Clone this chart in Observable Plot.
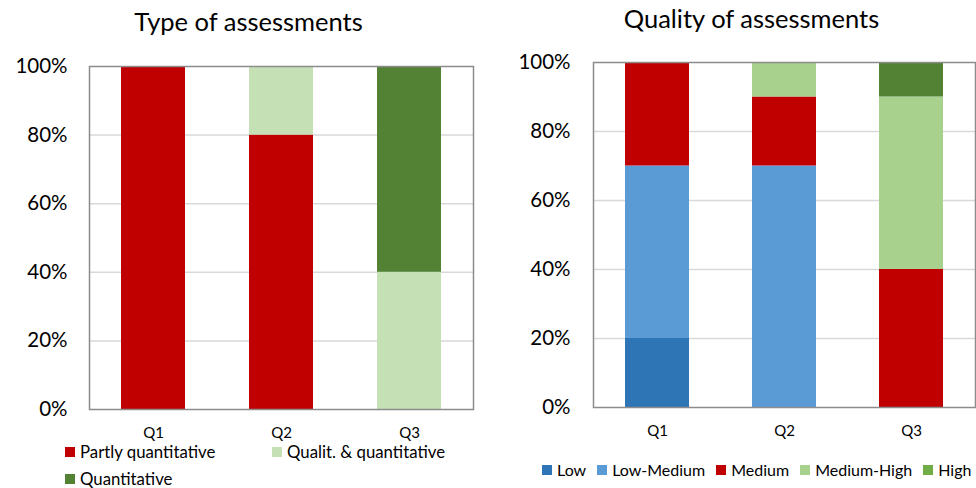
<!DOCTYPE html>
<html>
<head>
<meta charset="utf-8">
<script src="https://cdn.jsdelivr.net/npm/d3@7"></script>
<script src="https://cdn.jsdelivr.net/npm/@observablehq/plot@0.6"></script>
<style>
  html, body { margin: 0; padding: 0; background: #fff; }
  #root { position: relative; width: 976px; height: 488px; overflow: hidden; font-family: Lato, "Open Sans", sans-serif; color: #000; }
  .panel { position: absolute; top: 0; }
  .title { position: absolute; font-size: 25.5px; transform: translateX(-50%); white-space: nowrap; line-height: 1; }
  .legend { position: absolute; display: flex; align-items: center; line-height: 1; }
  .item { display: flex; align-items: center; white-space: nowrap; }
  .sw { width: 10px; height: 10px; margin-right: 5px; flex: none; }
</style>
</head>
<body>
<div id="root"></div>
<script>
// Categories and tick values shared by both panels
const questions = ["Q1", "Q2", "Q3"];
const percentTicks = [0, 20, 40, 60, 80, 100];

// Type of assessments (percent of answers per question)
const typeSeries = ["Partly quantitative", "Qualit. & quantitative", "Quantitative"];
const typePartlyQuantitative = [100, 80, 0];
const typeQualitAndQuantitative = [0, 20, 40];
const typeQuantitative = [0, 0, 60];

// Quality of assessments (percent of answers per question)
const qualitySeries = ["Low", "Low-Medium", "Medium", "Medium-High", "High"];
const qualityLow = [20, 0, 0];
const qualityLowMedium = [50, 70, 0];
const qualityMedium = [30, 20, 40];
const qualityMediumHigh = [0, 10, 50];
const qualityHigh = [0, 0, 10];

// Palettes
const typeColors = ["#C00000", "#C5E0B4", "#548235"];
const qualityColors = ["#2E75B6", "#5B9BD5", "#C00000", "#A9D18E", "#548235"];
const qualityLegendColors = ["#2E75B6", "#5B9BD5", "#C00000", "#A9D18E", "#70AD47"];

function toRows(series, columns) {
  const rows = [];
  series.forEach((s, i) => {
    columns[i].forEach((v, j) => rows.push({question: questions[j], series: s, value: v}));
  });
  return rows;
}

const typeRows = toRows(typeSeries, [typePartlyQuantitative, typeQualitAndQuantitative, typeQuantitative]);
const qualityRows = toRows(qualitySeries, [qualityLow, qualityLowMedium, qualityMedium, qualityMediumHigh, qualityHigh]);

function stackedChart({rows, series, colors, width, height, margin, yPad, xPad}) {
  return Plot.plot({
    width, height,
    marginLeft: margin.left, marginRight: margin.right,
    marginTop: margin.top, marginBottom: margin.bottom,
    style: {fontFamily: "Lato, 'Open Sans', sans-serif", color: "#000", background: "transparent", overflow: "visible"},
    x: {domain: questions, paddingInner: 0.5, paddingOuter: 0.25, label: null},
    y: {domain: [0, 100], label: null},
    color: {domain: series, range: colors},
    marks: [
      Plot.gridY(percentTicks.filter(t => t > 0 && t < 100), {stroke: "#d9d9d9", strokeOpacity: 1, strokeWidth: 1.5}),
      Plot.barY(rows, Plot.stackY({x: "question", y: "value", fill: "series", order: series})),
      Plot.frame({stroke: "#8c8c8c", strokeWidth: 1.5}),
      Plot.axisY({ticks: percentTicks, tickFormat: d => d + "%", tickSize: 0, tickPadding: yPad, fontSize: 20.5, label: null}),
      Plot.axisX({tickSize: 0, tickPadding: xPad, fontSize: 15, label: null})
    ]
  });
}

const root = document.getElementById("root");

function addPanel(left, svg) {
  const div = document.createElement("div");
  div.className = "panel";
  div.style.left = left + "px";
  div.appendChild(svg);
  root.appendChild(div);
}

function addTitle(text, cx, top) {
  const t = document.createElement("div");
  t.className = "title";
  t.textContent = text;
  t.style.left = cx + "px";
  t.style.top = top + "px";
  root.appendChild(t);
}

function addLegend(series, colors, {left, top, width, itemWidth, gap, rowGap, fontSize, wrap}) {
  const lg = document.createElement("div");
  lg.className = "legend";
  lg.style.left = left + "px";
  lg.style.top = top + "px";
  lg.style.fontSize = fontSize + "px";
  lg.style.flexWrap = wrap ? "wrap" : "nowrap";
  if (width) lg.style.width = width + "px";
  lg.style.columnGap = gap + "px";
  lg.style.rowGap = rowGap + "px";
  series.forEach((s, i) => {
    const it = document.createElement("div");
    it.className = "item";
    if (itemWidth) it.style.width = itemWidth + "px";
    const sw = document.createElement("span");
    sw.className = "sw";
    sw.style.background = colors[i];
    const label = document.createElement("span");
    label.textContent = s;
    it.appendChild(sw);
    it.appendChild(label);
    lg.appendChild(it);
  });
  root.appendChild(lg);
}

// Left panel: type of assessments
addPanel(0, stackedChart({
  rows: typeRows, series: typeSeries, colors: typeColors,
  width: 488, height: 445,
  margin: {left: 89, right: 15, top: 66, bottom: 36},
  yPad: 22, xPad: 18
}));
addTitle("Type of assessments", 248.5, 9);
addLegend(typeSeries, typeColors, {left: 65, top: 444, width: 420, itemWidth: 207, gap: 0, rowGap: 10, fontSize: 16.8, wrap: true});

// Right panel: quality of assessments
addPanel(488, stackedChart({
  rows: qualityRows, series: qualitySeries, colors: qualityColors,
  width: 488, height: 445,
  margin: {left: 105, right: 1, top: 62, bottom: 38},
  yPad: 23, xPad: 18
}));
addTitle("Quality of assessments", 751.5, 6);
addLegend(qualitySeries, qualityLegendColors, {left: 542, top: 462, gap: 11, rowGap: 0, fontSize: 16, wrap: false});
</script>
</body>
</html>
